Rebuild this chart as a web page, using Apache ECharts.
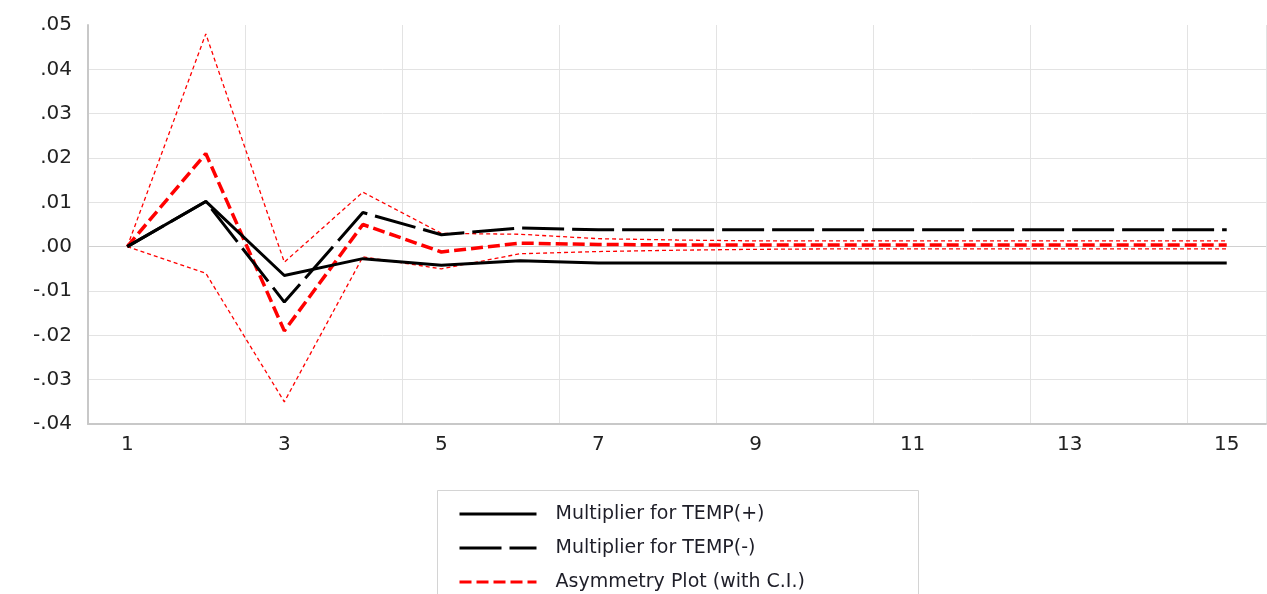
<!DOCTYPE html>
<html>
<head>
<meta charset="utf-8">
<script src="https://cdn.jsdelivr.net/npm/echarts@6/dist/echarts.min.js"></script>
<style>
html,body{margin:0;padding:0;background:#fff;}
#chart{width:1267px;height:594px;}
</style>
</head>
<body>
<div id="chart"></div>
<script>
const categories = ['1','2','3','4','5','6','7','8','9','10','11','12','13','14','15'];
const tempPos = [0, 0.0102, -0.0065, -0.0027, -0.0042, -0.0032, -0.0037, -0.0037, -0.0037, -0.0037, -0.0037, -0.0037, -0.0037, -0.0037, -0.0037];
const tempNeg = [0, 0.0102, -0.0125, 0.0077, 0.0027, 0.0042, 0.0038, 0.0038, 0.0038, 0.0038, 0.0038, 0.0038, 0.0038, 0.0038, 0.0038];
const asym = [0, 0.021, -0.019, 0.005, -0.0012, 0.0008, 0.0005, 0.0004, 0.0004, 0.0004, 0.0004, 0.0004, 0.0004, 0.0004, 0.0004];
const upperCI = [0, 0.048, -0.0035, 0.0123, 0.003, 0.0028, 0.0018, 0.0015, 0.0013, 0.0013, 0.0013, 0.0013, 0.0013, 0.0013, 0.0013];
const lowerCI = [0, -0.006, -0.035, -0.0023, -0.005, -0.0016, -0.0011, -0.0008, -0.0006, -0.0005, -0.0005, -0.0005, -0.0005, -0.0005, -0.0005];
const seriesNames = ['Multiplier for TEMP(+)', 'Multiplier for TEMP(-)', 'Asymmetry Plot (with C.I.)'];

const chart = echarts.init(document.getElementById('chart'), null, {renderer: 'canvas'});
const fmt = v => {
  const s = (Math.round(v * 100) / 100).toFixed(2);
  return s.replace(/^(-?)0\./, '$1.');
};
const yGridColors = ['transparent','#e3e3e3','#e3e3e3','#e3e3e3','#d0d0d0','#e3e3e3','#e3e3e3','#e3e3e3','#e3e3e3','transparent'];
chart.setOption({
  animation: false,
  backgroundColor: '#fff',
  grid: {left: 88, right: 1, top: 25, bottom: 170, containLabel: false},
  xAxis: {
    type: 'category',
    data: categories,
    boundaryGap: true,
    axisLine: {show: true, onZero: false, lineStyle: {color: '#c8c8c8', width: 2}},
    axisTick: {show: false},
    axisLabel: {interval: 1, color: '#222', fontFamily: 'DejaVu Sans', fontSize: 20, margin: 11},
    splitLine: {show: true, interval: 1, lineStyle: {color: '#e3e3e3', width: 1}}
  },
  yAxis: {
    type: 'value',
    min: -0.04, max: 0.05, interval: 0.01,
    axisLine: {show: true, lineStyle: {color: '#c8c8c8', width: 2}},
    axisTick: {show: false},
    axisLabel: {formatter: fmt, color: '#222', fontFamily: 'DejaVu Sans', fontSize: 20, margin: 16},
    splitLine: {show: true, lineStyle: {color: yGridColors, width: 1}}
  },
  legend: {
    data: seriesNames,
    orient: 'vertical',
    left: 453, top: 499, height: 200,
    itemWidth: 77, itemHeight: 14, itemGap: 14,
    itemStyle: {opacity: 0},
    lineStyle: {width: 3},
    textStyle: {fontFamily: 'DejaVu Sans', fontSize: 19, color: '#1e1e28', lineHeight: 20, padding: [0,0,0,14]}
  },
  graphic: [{
    type: 'rect', left: 437, top: 490, z: -1,
    shape: {width: 481, height: 120},
    style: {fill: '#fff', stroke: '#d4d4d4', lineWidth: 1}
  }],
  series: [
    {name: seriesNames[0], type: 'line', data: tempPos, symbol: 'none', z: 5,
     lineStyle: {color: '#000', width: 3, type: 'solid'}, itemStyle: {color: '#000'}},
    {name: seriesNames[1], type: 'line', data: tempNeg, symbol: 'none', z: 5,
     lineStyle: {color: '#000', width: 3, type: [42, 8]}, itemStyle: {color: '#000'}},
    {name: seriesNames[2], type: 'line', data: asym, symbol: 'none', z: 4,
     lineStyle: {color: '#ff0000', width: 3.5, type: [12, 5]}, itemStyle: {color: '#ff0000'}},
    {name: 'Upper C.I.', type: 'line', data: upperCI, symbol: 'none', z: 3,
     lineStyle: {color: '#ff0000', width: 1.3, type: [4, 3]}, itemStyle: {color: '#ff0000'}},
    {name: 'Lower C.I.', type: 'line', data: lowerCI, symbol: 'none', z: 3,
     lineStyle: {color: '#ff0000', width: 1.3, type: [4, 3]}, itemStyle: {color: '#ff0000'}}
  ]
});
</script>
</body>
</html>
